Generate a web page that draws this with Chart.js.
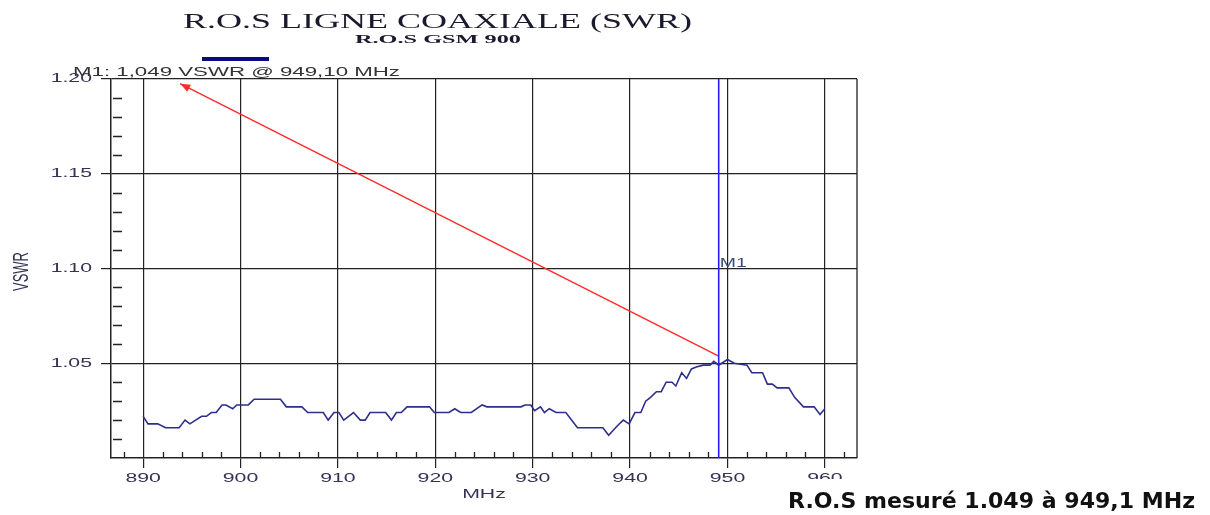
<!DOCTYPE html>
<html>
<head>
<meta charset="utf-8">
<script src="https://cdn.jsdelivr.net/npm/chart.js@4.4.0/dist/chart.umd.min.js"></script>
<style>
  body { margin: 0; background: #fff; }
  canvas { display: block; }
</style>
</head>
<body>
<canvas id="swrChart" width="1210" height="515"></canvas>
<script>
// trace vertices
const freqMHz = [
  890.0, 890.5, 891.5, 892.3, 893.7, 894.3, 894.8, 896.0, 896.5, 897.0,
  897.5, 898.1, 898.5, 899.2, 899.6, 900.8, 901.4, 904.1, 904.7, 906.3,
  906.9, 908.5, 909.0, 909.6, 910.1, 910.6, 911.6, 912.3, 912.8, 913.3,
  914.9, 915.5, 916.0, 916.5, 917.1, 919.4, 919.9, 921.4, 922.0, 922.6,
  923.7, 924.8, 925.3, 928.8, 929.2, 929.8, 930.2, 930.8, 931.2, 931.7,
  932.4, 933.4, 934.6, 937.2, 937.8, 938.7, 939.3, 939.9, 940.5, 941.1,
  941.6, 942.1, 942.7, 943.2, 943.7, 944.3, 944.7, 945.3, 945.8, 946.3,
  946.8, 947.5, 948.2, 948.6, 949.1, 950.0, 950.7, 952.0, 952.5, 953.6,
  954.1, 954.6, 955.1, 956.3, 956.9, 957.8, 958.9, 959.5, 960.0
];
const vswr = [
  1.022, 1.018, 1.018, 1.016, 1.016, 1.020, 1.018, 1.022, 1.022, 1.024,
  1.024, 1.028, 1.028, 1.026, 1.028, 1.028, 1.031, 1.031, 1.027, 1.027,
  1.024, 1.024, 1.020, 1.024, 1.024, 1.020, 1.024, 1.020, 1.020, 1.024,
  1.024, 1.020, 1.024, 1.024, 1.027, 1.027, 1.024, 1.024, 1.026, 1.024,
  1.024, 1.028, 1.027, 1.027, 1.028, 1.028, 1.025, 1.027, 1.024, 1.026,
  1.024, 1.024, 1.016, 1.016, 1.012, 1.017, 1.020, 1.018, 1.024, 1.024,
  1.030, 1.032, 1.035, 1.035, 1.040, 1.040, 1.038, 1.045, 1.042, 1.047,
  1.048, 1.049, 1.049, 1.051, 1.049, 1.052, 1.050, 1.049, 1.045, 1.045,
  1.039, 1.039, 1.037, 1.037, 1.032, 1.027, 1.027, 1.023, 1.026
];
const xTickValues = [890, 900, 910, 920, 930, 940, 950, 960];
const yTickValues = [1.05, 1.10, 1.15, 1.20];
const xRange = [886.7, 963.3];
const yRange = [1.0, 1.2];

const markerFreq = 949.1;
const markerName = 'M1';
const markerText = 'M1: 1,049 VSWR @ 949,10 MHz';
const arrowFrom = [949.1, 1.0538];
const arrowTo = [893.8, 1.1975];

const titleText = 'R.O.S LIGNE COAXIALE (SWR)';
const subTitleText = 'R.O.S GSM 900';
const noteText = 'R.O.S mesuré 1.049 à 949,1 MHz';

const INK = '#222';
const LABEL = '#333355';
const SX = 1.7; // the source picture is stretched sideways

const stretchText = (ctx, text, x, y, o) => {
  ctx.save();
  ctx.font = o.font;
  ctx.fillStyle = o.color || LABEL;
  ctx.textBaseline = o.baseline || 'alphabetic';
  let w = ctx.measureText(text).width;
  let sx = o.width ? o.width / w : (o.sx || SX);
  let left = x;
  if (o.align === 'center') left = x - w * sx / 2;
  if (o.align === 'right') left = x - w * sx;
  ctx.translate(left, y);
  ctx.scale(sx, 1);
  ctx.textAlign = 'left';
  ctx.fillText(text, 0, 0);
  ctx.restore();
};

const extras = {
  id: 'extras',
  afterDatasetsDraw(chart) {
    const ctx = chart.ctx;
    const a = chart.chartArea;
    const xs = chart.scales.x, ys = chart.scales.y;
    ctx.save();
    ctx.strokeStyle = INK;
    ctx.lineWidth = 1.3;
    ctx.beginPath();
    // minor ticks
    for (let f = 888; f <= 962; f += 2) {
      if (f % 10 === 0) continue;
      let px = Math.round(xs.getPixelForValue(f)) + 0.5;
      ctx.moveTo(px, a.bottom);
      ctx.lineTo(px, a.bottom - 6);
    }
    for (let k = 1; k < 20; k++) {
      if (k % 5 === 0) continue;
      let py = Math.round(ys.getPixelForValue(1 + k * 0.01)) + 0.5;
      ctx.moveTo(a.left + 2, py);
      ctx.lineTo(a.left + 11, py);
    }
    // right frame
    ctx.moveTo(a.right, a.top);
    ctx.lineTo(a.right, a.bottom);
    ctx.stroke();

    // arrow head at the marker readout
    let x0 = xs.getPixelForValue(arrowFrom[0]), y0 = ys.getPixelForValue(arrowFrom[1]);
    let x1 = xs.getPixelForValue(arrowTo[0]), y1 = ys.getPixelForValue(arrowTo[1]);
    let ang = Math.atan2(y1 - y0, x1 - x0);
    ctx.fillStyle = '#ff2b2b';
    ctx.beginPath();
    ctx.moveTo(x1, y1);
    ctx.lineTo(x1 - 10 * Math.cos(ang) + 4 * Math.sin(ang), y1 - 10 * Math.sin(ang) - 4 * Math.cos(ang));
    ctx.lineTo(x1 - 10 * Math.cos(ang) - 4 * Math.sin(ang), y1 - 10 * Math.sin(ang) + 4 * Math.cos(ang));
    ctx.closePath();
    ctx.fill();
    ctx.restore();
  },
  afterDraw(chart) {
    const ctx = chart.ctx;
    const a = chart.chartArea;
    const xs = chart.scales.x, ys = chart.scales.y;
    const tickFont = '12.5px "Liberation Sans", Arial, sans-serif';

    yTickValues.forEach(v => {
      stretchText(ctx, v.toFixed(2), a.left - 19, ys.getPixelForValue(v), {font: tickFont, align: 'right', baseline: 'middle'});
    });
    xTickValues.forEach(v => {
      stretchText(ctx, String(v), xs.getPixelForValue(v), a.bottom + 21, {font: tickFont, align: 'center', baseline: 'middle'});
    });
    stretchText(ctx, 'MHz', (a.left + a.right) / 2, a.bottom + 40, {font: tickFont, align: 'center'});

    // rotated y title
    ctx.save();
    ctx.font = '13px "Liberation Sans", Arial, sans-serif';
    ctx.fillStyle = LABEL;
    ctx.translate(21.5, (a.top + a.bottom) / 2 + 3);
    ctx.rotate(-Math.PI / 2);
    ctx.scale(1, SX);
    ctx.textAlign = 'center';
    ctx.textBaseline = 'middle';
    ctx.fillText('VSWR', 0, 0);
    ctx.restore();

    // titles
    stretchText(ctx, titleText, 183, 28, {font: '21px "Liberation Serif", "Times New Roman", serif', width: 509, color: '#1a1a2e'});
    stretchText(ctx, subTitleText, 355, 43, {font: 'bold 13.5px "Liberation Serif", "Times New Roman", serif', width: 166, color: '#1a1a2e'});
    ctx.fillStyle = '#0a0a80';
    ctx.fillRect(202, 57, 67, 4);

    // marker readout and label
    stretchText(ctx, markerText, 73, a.top - 3, {font: tickFont, width: 327, color: '#333'});
    stretchText(ctx, markerName, xs.getPixelForValue(markerFreq) + 1, ys.getPixelForValue(1.10) - 2,
      {font: tickFont, width: 27, color: '#3a4a7a'});

    // note pasted over the bottom right corner
    ctx.fillStyle = '#fff';
    ctx.fillRect(775, 479, 435, 36);
    stretchText(ctx, noteText, 788, 508, {font: 'bold 22px "DejaVu Sans", sans-serif', width: 407, color: '#111'});
  }
};

new Chart(document.getElementById('swrChart'), {
  type: 'line',
  data: {
    datasets: [
      {
        label: 'VSWR',
        data: freqMHz.map((f, i) => ({x: f, y: vswr[i]})),
        borderColor: '#2e2e8e',
        borderWidth: 1.6,
        pointRadius: 0,
        tension: 0
      },
      {
        label: markerName,
        data: [{x: markerFreq, y: yRange[0]}, {x: markerFreq, y: yRange[1]}],
        borderColor: '#1f1fff',
        borderWidth: 1.6,
        pointRadius: 0
      },
      {
        label: 'arrow',
        data: [{x: arrowFrom[0], y: arrowFrom[1]}, {x: arrowTo[0], y: arrowTo[1]}],
        borderColor: '#ff2b2b',
        borderWidth: 1.4,
        pointRadius: 0
      }
    ]
  },
  options: {
    responsive: false,
    animation: false,
    events: [],
    layout: {padding: {left: 0, top: 79, right: 353, bottom: 0}},
    plugins: {legend: {display: false}, tooltip: {enabled: false}},
    scales: {
      x: {
        type: 'linear',
        min: xRange[0],
        max: xRange[1],
        afterBuildTicks: s => { s.ticks = xTickValues.map(v => ({value: v})); },
        afterFit: s => { s.height = 57; },
        grid: {color: INK, lineWidth: 1.2, tickLength: 10},
        border: {color: INK, width: 1.5},
        ticks: {display: false}
      },
      y: {
        min: yRange[0],
        max: yRange[1],
        afterBuildTicks: s => { s.ticks = yTickValues.map(v => ({value: v})); },
        afterFit: s => { s.width = 111; },
        grid: {color: INK, lineWidth: 1.2, tickLength: 10},
        border: {color: INK, width: 1.5},
        ticks: {display: false}
      }
    }
  },
  plugins: [extras]
});
</script>
</body>
</html>
